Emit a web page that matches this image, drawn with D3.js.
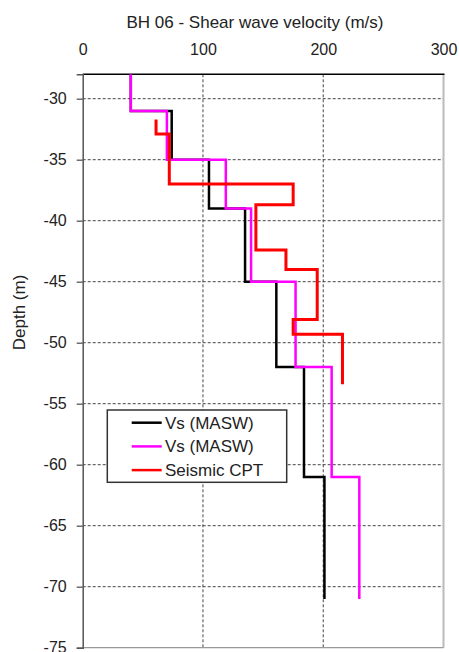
<!DOCTYPE html>
<html>
<head>
<meta charset="utf-8">
<script src="https://cdn.jsdelivr.net/npm/d3@7"></script>
<style>
	body { margin: 0; background: #fff; }
	svg { display: block; font-family: 'Liberation Sans', Arial, sans-serif; }
</style>
</head>
<body>
<div id="viz"></div>
<script>
// layer data: depth of layer tops (m), bottom of last layer, velocity (m/s)
const masw1_tops = [-28, -31, -35, -39, -45, -52, -61]
const masw1_bottom = -71
const masw1_vs = [40, 74, 105, 135, 161, 184, 201]

const masw2_tops = [-28, -31, -35, -39, -45, -52, -61]
const masw2_bottom = -71
const masw2_vs = [40, 70, 119, 140, 177, 207, 230]

const cpt_tops = [-31.7, -32.9, -37.0, -38.7, -42.4, -44.0, -48.1, -49.3]
const cpt_bottom = -53.4
const cpt_vs = [61, 72, 175, 144, 169, 195, 175, 216]

const x_ticks = [0, 100, 200, 300]
const y_ticks = [-30, -35, -40, -45, -50, -55, -60, -65, -70, -75]

const series = [
	{ name: 'Vs (MASW)', color: '#000000', tops: masw1_tops, bottom: masw1_bottom, vs: masw1_vs, width: 2.5 },
	{ name: 'Vs (MASW)', color: '#ff00ff', tops: masw2_tops, bottom: masw2_bottom, vs: masw2_vs, width: 2.5 },
	{ name: 'Seismic CPT', color: '#ff0000', tops: cpt_tops, bottom: cpt_bottom, vs: cpt_vs, width: 3 }
]

const WIDTH = 459
const HEIGHT = 652
const LEFT = 82.7
const RIGHT = 443.5
const TOP = 74.3
const BOTTOM = 647.7

const x = d3.scaleLinear().domain([0, 300]).range([LEFT, RIGHT])
const y = d3.scaleLinear().domain([-28, -75]).range([TOP, BOTTOM])

const svg = d3.select('#viz')
	.append('svg')
	.attr('width', WIDTH)
	.attr('height', HEIGHT)

// grid
svg.append('g')
	.selectAll('line')
	.data(x_ticks.filter((d) => d > 0 && d < 300))
	.enter()
	.append('line')
	.attr('x1', (d) => x(d))
	.attr('x2', (d) => x(d))
	.attr('y1', TOP)
	.attr('y2', BOTTOM)
	.attr('stroke', '#444')
	.attr('stroke-dasharray', '3,2')

svg.append('g')
	.selectAll('line')
	.data(y_ticks.filter((d) => d > -75))
	.enter()
	.append('line')
	.attr('x1', LEFT)
	.attr('x2', RIGHT)
	.attr('y1', (d) => y(d))
	.attr('y2', (d) => y(d))
	.attr('stroke', '#444')
	.attr('stroke-dasharray', '3,2')

// frame
svg.append('line')
	.attr('x1', RIGHT).attr('x2', RIGHT)
	.attr('y1', TOP).attr('y2', BOTTOM)
	.attr('stroke', '#bbb').attr('stroke-width', 2)
svg.append('line')
	.attr('x1', LEFT).attr('x2', RIGHT)
	.attr('y1', BOTTOM).attr('y2', BOTTOM)
	.attr('stroke', '#999').attr('stroke-width', 1.3)
svg.append('line')
	.attr('x1', LEFT).attr('x2', RIGHT + 1)
	.attr('y1', TOP).attr('y2', TOP)
	.attr('stroke', '#000').attr('stroke-width', 1.5)

// axes
const x_axis = svg.append('g')
	.attr('transform', `translate(0,${TOP})`)
	.call(d3.axisTop(x).tickValues(x_ticks).tickSize(0).tickPadding(19).tickFormat((d) => String(d)))
x_axis.select('.domain').remove()
x_axis.selectAll('text').attr('font-size', 16).attr('fill', '#222').attr('font-family', null)

const y_axis = svg.append('g')
	.attr('transform', `translate(${LEFT},0)`)
	.call(d3.axisLeft(y).tickValues(y_ticks).tickSize(6).tickPadding(10).tickFormat((d) => String(d)))
y_axis.select('.domain').attr('stroke', '#555').attr('stroke-width', 1.5)
y_axis.selectAll('.tick line').attr('stroke', '#555').attr('stroke-width', 1.3)
y_axis.selectAll('text').attr('font-size', 16).attr('fill', '#222').attr('font-family', null)

// series as step profiles
const step_points = (s) => {
	const pts = []
	s.vs.forEach((v, i) => {
		const top = s.tops[i]
		const bot = i + 1 < s.tops.length ? s.tops[i + 1] : s.bottom
		pts.push([v, top], [v, bot])
	})
	return pts
}

const line = d3.line()
	.x((d) => x(d[0]))
	.y((d) => y(d[1]))

svg.append('g')
	.selectAll('path')
	.data(series)
	.enter()
	.append('path')
	.attr('d', (d) => line(step_points(d)))
	.attr('fill', 'none')
	.attr('stroke', (d) => d.color)
	.attr('stroke-width', (d) => d.width)
	.attr('stroke-linejoin', 'miter')

// titles
svg.append('text')
	.attr('x', 255)
	.attr('y', 28)
	.attr('text-anchor', 'middle')
	.attr('font-size', 17)
	.attr('fill', '#222')
	.text('BH 06 - Shear wave velocity (m/s)')

svg.append('text')
	.attr('transform', 'translate(25,312.5) rotate(-90)')
	.attr('text-anchor', 'middle')
	.attr('font-size', 17)
	.attr('fill', '#222')
	.text('Depth (m)')

// legend
const legend = svg.append('g').attr('transform', 'translate(107.3,410)')
legend.append('rect')
	.attr('width', 179.4)
	.attr('height', 72.3)
	.attr('fill', '#fff')
	.attr('stroke', '#333')
	.attr('stroke-width', 1.5)

const rows = legend.selectAll('g.row')
	.data(series)
	.enter()
	.append('g')
	.attr('class', 'row')
	.attr('transform', (d, i) => `translate(0,${12.7 + i * 23.7})`)

rows.append('line')
	.attr('x1', 24.4)
	.attr('x2', 54.4)
	.attr('stroke', (d) => d.color)
	.attr('stroke-width', 2.5)

rows.append('text')
	.attr('x', 57.7)
	.attr('dy', '0.35em')
	.attr('font-size', 17)
	.attr('fill', '#222')
	.text((d) => d.name)
</script>
</body>
</html>
